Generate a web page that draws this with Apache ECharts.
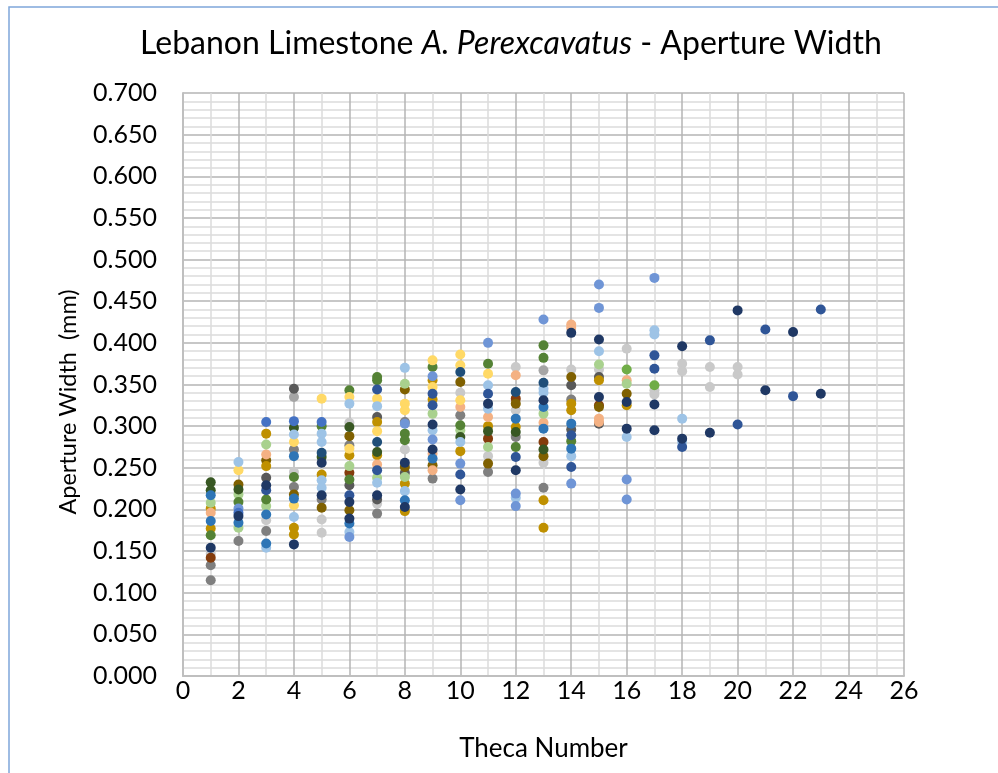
<!DOCTYPE html>
<html>
<head>
<meta charset="utf-8">
<title>Lebanon Limestone A. Perexcavatus - Aperture Width</title>
<script src="https://cdn.jsdelivr.net/npm/echarts@6/dist/echarts.min.js"></script>
<style>
  html, body { margin: 0; padding: 0; background: #ffffff; }
  #chart { width: 998px; height: 773px; }
</style>
</head>
<body>
<div id="chart"></div>
<script>
// Aperture width (mm) per theca number, grouped by marker colour.
const navy = [[1,0.154],[2,0.192],[3,0.229],[4,0.158],[5,0.256],[5,0.217],[6,0.209],[6,0.189],[7,0.217],[8,0.256],[8,0.203],[9,0.302],[9,0.272],[10,0.224],[11,0.327],[12,0.247],[13,0.331],[14,0.412],[15,0.404],[15,0.335],[16,0.329],[16,0.297],[17,0.326],[17,0.295],[18,0.396],[18,0.285],[19,0.292],[20,0.439],[21,0.343],[22,0.413],[23,0.339]];
const blue = [[3,0.223],[6,0.217],[7,0.344],[7,0.247],[9,0.339],[9,0.325],[10,0.242],[11,0.339],[12,0.263],[14,0.289],[14,0.251],[17,0.385],[17,0.369],[18,0.275],[19,0.403],[20,0.302],[21,0.416],[22,0.336],[23,0.440]];
const blueMid = [[2,0.196],[3,0.305],[4,0.306],[5,0.305]];
const blueLight = [[2,0.201],[6,0.167],[8,0.303],[9,0.360],[9,0.284],[10,0.255],[10,0.211],[11,0.400],[12,0.219],[12,0.204],[13,0.428],[14,0.231],[15,0.470],[15,0.442],[16,0.236],[16,0.212],[17,0.478]];
const skyBlue = [[2,0.257],[3,0.154],[4,0.290],[4,0.191],[5,0.291],[5,0.281],[5,0.235],[5,0.226],[6,0.327],[6,0.173],[7,0.324],[7,0.232],[8,0.370],[8,0.222],[9,0.295],[10,0.281],[11,0.349],[11,0.321],[12,0.214],[13,0.345],[13,0.340],[14,0.264],[15,0.390],[16,0.287],[17,0.415],[17,0.410],[18,0.309],[18,0.281]];
const steel = [[1,0.217],[1,0.186],[2,0.184],[3,0.194],[3,0.159],[4,0.264],[4,0.213],[6,0.183],[8,0.211],[9,0.261],[12,0.309],[13,0.323],[13,0.297],[14,0.303],[14,0.273]];
const teal = [[5,0.268],[7,0.281],[10,0.365],[12,0.341],[13,0.352]];
const orange = [[1,0.196],[3,0.266],[7,0.254],[9,0.267],[9,0.247],[10,0.323],[11,0.311],[12,0.361],[13,0.304],[14,0.422],[14,0.418],[15,0.309],[15,0.305],[16,0.355]];
const brown = [[1,0.142],[6,0.244],[11,0.285],[12,0.333],[13,0.281],[15,0.325]];
const gold = [[1,0.201],[1,0.177],[3,0.291],[3,0.252],[4,0.178],[4,0.170],[5,0.242],[6,0.265],[7,0.305],[7,0.265],[8,0.231],[8,0.198],[9,0.355],[9,0.332],[10,0.270],[11,0.300],[12,0.299],[13,0.211],[13,0.178],[14,0.327],[14,0.319],[15,0.355],[16,0.325]];
const olive = [[2,0.230],[3,0.259],[4,0.218],[5,0.202],[6,0.288],[6,0.199],[8,0.344],[8,0.251],[9,0.253],[10,0.353],[11,0.255],[12,0.327],[13,0.264],[14,0.359],[15,0.323],[16,0.339]];
const yellow = [[2,0.247],[4,0.281],[4,0.205],[5,0.333],[6,0.335],[6,0.273],[7,0.333],[7,0.294],[8,0.327],[8,0.319],[9,0.379],[9,0.347],[10,0.386],[10,0.373],[10,0.331],[11,0.363]];
const lightGray = [[1,0.147],[3,0.187],[4,0.245],[5,0.188],[5,0.172],[6,0.304],[7,0.207],[8,0.272],[10,0.340],[11,0.264],[12,0.371],[12,0.319],[13,0.256],[14,0.368],[15,0.368],[16,0.393],[17,0.343],[17,0.338],[18,0.375],[18,0.366],[19,0.371],[19,0.347],[20,0.371],[20,0.362]];
const gray = [[1,0.133],[1,0.115],[2,0.162],[3,0.174],[4,0.272],[4,0.227],[5,0.212],[6,0.277],[7,0.195],[8,0.305],[9,0.237],[10,0.313],[11,0.245],[12,0.287],[13,0.226],[14,0.332]];
const darkGray = [[3,0.238],[4,0.345],[6,0.229],[7,0.311],[7,0.212],[8,0.244],[14,0.349],[14,0.296],[15,0.359],[15,0.303]];
const midGray = [[4,0.335],[13,0.367]];
const darkGreen = [[1,0.2325],[1,0.223],[2,0.224],[4,0.298],[5,0.263],[6,0.299],[7,0.269],[10,0.287],[11,0.294],[12,0.293],[13,0.272]];
const green = [[1,0.169],[2,0.209],[3,0.212],[4,0.239],[5,0.300],[6,0.343],[6,0.236],[7,0.359],[7,0.355],[8,0.291],[8,0.283],[9,0.371],[10,0.301],[11,0.375],[12,0.275],[13,0.397],[13,0.382],[14,0.282]];
const brightGreen = [[16,0.368],[17,0.349]];
const lightGreen = [[1,0.208],[2,0.218],[2,0.178],[3,0.278],[3,0.204],[6,0.252],[7,0.238],[8,0.351],[8,0.239],[9,0.315],[10,0.295],[11,0.275],[13,0.315],[15,0.374],[16,0.351]];

// Drawing order (later groups sit on top) with their marker colours.
const groups = [
  ['gray', gray, '#7F7F7F'],
  ['lightGray', lightGray, '#C9C9C9'],
  ['midGray', midGray, '#A5A5A5'],
  ['darkGray', darkGray, '#595959'],
  ['brown', brown, '#843C0C'],
  ['olive', olive, '#7F6000'],
  ['gold', gold, '#BF9000'],
  ['orange', orange, '#F4B183'],
  ['lightGreen', lightGreen, '#A9D18E'],
  ['green', green, '#548235'],
  ['brightGreen', brightGreen, '#70AD47'],
  ['darkGreen', darkGreen, '#385723'],
  ['yellow', yellow, '#FFD966'],
  ['skyBlue', skyBlue, '#9DC3E6'],
  ['blueLight', blueLight, '#6F95D6'],
  ['steel', steel, '#2E75B6'],
  ['blueMid', blueMid, '#4472C4'],
  ['teal', teal, '#1F4E79'],
  ['blue', blue, '#2F5597'],
  ['navy', navy, '#1F3864']
];

const FONT = 'Lato';
const LABEL_SIZE = 25;
const chart = echarts.init(document.getElementById('chart'), null, { renderer: 'canvas' });

chart.setOption({
  animation: false,
  backgroundColor: '#ffffff',
  textStyle: { fontFamily: FONT },
  title: {
    left: 140,
    top: 28,
    padding: 0,
    text: '{a|Lebanon Limestone }{b|A. Perexcavatus}{a| - Aperture Width}',
    textStyle: {
      fontWeight: 'normal',
      rich: {
        a: { fontFamily: FONT, fontSize: 32, fontWeight: 'normal', color: '#000000' },
        b: { fontFamily: FONT, fontSize: 32, fontWeight: 'normal', color: '#000000', fontStyle: 'italic' }
      }
    }
  },
  graphic: [{
    type: 'rect',
    shape: { x: 9, y: 7, width: 1200, height: 1000 },
    style: { fill: 'none', stroke: '#7FA7DA', lineWidth: 1.5 },
    silent: true
  }],
  grid: { left: 183, top: 93, right: 94, bottom: 97, containLabel: false },
  xAxis: {
    type: 'value',
    min: 0, max: 26, interval: 2,
    name: 'Theca Number',
    nameLocation: 'middle',
    nameGap: 60,
    nameTextStyle: { fontFamily: FONT, fontSize: 26, color: '#000000' },
    axisLine: { show: true, lineStyle: { color: '#BFBFBF', width: 2 } },
    axisTick: { show: false },
    axisLabel: { fontFamily: FONT, fontSize: LABEL_SIZE, color: '#000000', margin: 2 },
    splitLine: { show: true, lineStyle: { color: '#B4B4B4', width: 1.5 } },
    minorTick: { show: false, splitNumber: 2 },
    minorSplitLine: { show: true, lineStyle: { color: '#DCDCDC', width: 1.5 } }
  },
  yAxis: {
    type: 'value',
    min: 0, max: 0.7, interval: 0.05,
    name: 'Aperture Width  (mm)',
    nameLocation: 'middle',
    nameGap: 103,
    nameTextStyle: { fontFamily: FONT, fontSize: 23.5, color: '#000000', padding: [0, 35, 0, 0] },
    axisLine: { show: true, lineStyle: { color: '#BFBFBF', width: 2 } },
    axisTick: { show: false },
    axisLabel: { fontFamily: FONT, fontSize: LABEL_SIZE, color: '#000000', margin: 26,
      formatter: v => v.toFixed(3) },
    splitLine: { show: true, lineStyle: { color: '#B4B4B4', width: 1.5 } },
    minorTick: { show: false, splitNumber: 5 },
    minorSplitLine: { show: true, lineStyle: { color: '#DCDCDC', width: 1.5 } }
  },
  series: groups.map(([name, data, color]) => ({
    name,
    type: 'scatter',
    data,
    symbol: 'circle',
    symbolSize: 10,
    itemStyle: { color, opacity: 1 },
    emphasis: { disabled: true }
  }))
});
</script>
</body>
</html>
